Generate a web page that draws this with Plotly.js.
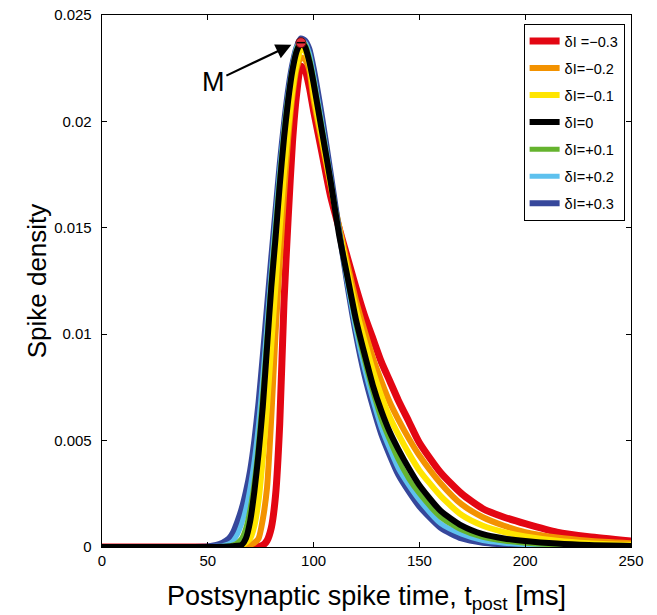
<!DOCTYPE html>
<html>
<head>
<meta charset="utf-8">
<script src="https://cdn.plot.ly/plotly-3.0.1.min.js"></script>
<style>html,body{margin:0;padding:0;background:#fff;}#chart{width:657px;height:615px;}</style>
</head>
<body>
<div id="chart"></div>
<script>
// time axis (ms)
const tPost = [0, 40, 50, 54, 57, 60, 62, 64, 66, 68, 70, 72, 74, 76, 78, 80, 82, 84, 86, 88, 90, 92, 94, 96, 98, 100, 104, 108, 112, 116, 120, 124, 128, 132, 136, 140, 145, 150, 160, 170, 180, 190, 200, 215, 230, 250];

const densM03 = [0,0,0,0,0, 0,0,0,0,0, 0,0,0.00002,0.00008,0.0003, 0.0009,0.0024,0.0058,0.0115,0.0155, 0.0190,0.0213,0.0226,0.0224,0.0216, 0.0205,0.0185,0.0165,0.0150,0.0136, 0.0122,0.0109,0.0098,0.0087,0.0078, 0.0069,0.0059,0.0049,0.0035,0.0025, 0.0018,0.0014,0.0011,0.0007,0.00048, 0.00028];
const densM02 = [0,0,0,0,0, 0,0,0,0.00002,0.00005, 0.0001,0.0002,0.0004,0.0013,0.0028, 0.0061,0.0100,0.0134,0.0165,0.0192, 0.0212,0.0225,0.0230,0.0229,0.0224, 0.0210,0.0190,0.0170,0.0151,0.0133, 0.0116,0.0102,0.0089,0.0078,0.0068, 0.0060,0.0051,0.0043,0.0030,0.0020, 0.0014,0.0010,0.0007,0.00045,0.0003, 0.00018];
const densM01 = [0,0,0,0,0, 0.00001,0.00002,0.00004,0.00008,0.0002, 0.0004,0.0010,0.0022,0.0042,0.0066, 0.0095,0.0123,0.0150,0.0176,0.0197, 0.0215,0.0227,0.0234,0.0233,0.0227, 0.0213,0.0192,0.0171,0.0150,0.0130, 0.0112,0.0097,0.0083,0.0071,0.0061, 0.0053,0.0044,0.0036,0.0024,0.0015, 0.0010,0.0007,0.0005,0.0003,0.00018, 0.0001];
const dens0 = [0,0,0,0,0.00001, 0.00002,0.00004,0.00006,0.0001,0.0004, 0.0012,0.0026,0.0044,0.0066,0.0094, 0.0122,0.0145,0.0170,0.0192,0.0210, 0.0224,0.0233,0.0237,0.0235,0.0228, 0.0218,0.0195,0.0172,0.0147,0.0127, 0.0107,0.0091,0.0076,0.0064,0.0054, 0.0046,0.0037,0.0029,0.0017,0.0010, 0.0006,0.0004,0.00028,0.00016,0.00009, 0.00005];
const densP01 = [0,0,0,0.00001,0.00002, 0.00005,0.0001,0.0002,0.0004,0.0009, 0.0018,0.0031,0.0049,0.0072,0.0099, 0.0126,0.0150,0.0174,0.0195,0.0212, 0.0225,0.0234,0.0238,0.0236,0.0230, 0.0220,0.0197,0.0173,0.0148,0.0126, 0.0105,0.0088,0.0073,0.0060,0.0050, 0.0041,0.0032,0.0025,0.0014,0.0008, 0.00045,0.00028,0.00018,0.0001,0.00006, 0.00003];
const densP02 = [0,0,0.00001,0.00003,0.00006, 0.00015,0.0003,0.0006,0.0011,0.0018, 0.0028,0.0041,0.0058,0.0080,0.0105, 0.0130,0.0154,0.0177,0.0197,0.0213, 0.0226,0.0235,0.0238,0.0237,0.0232, 0.0222,0.0199,0.0174,0.0148,0.0124, 0.0102,0.0084,0.0069,0.0056,0.0046, 0.0037,0.0029,0.0022,0.0011,0.0006, 0.0003,0.00018,0.00011,0.00006,0.00003, 0.00002];
const densP03 = [0,0,0.00003,0.0001,0.0002, 0.0004,0.0007,0.0012,0.0018,0.0026, 0.0036,0.0050,0.0068,0.0090,0.0113, 0.0136,0.0158,0.0180,0.0199,0.0215, 0.0227,0.0235,0.0239,0.0238,0.0234, 0.0225,0.0202,0.0176,0.0149,0.0123, 0.0100,0.0081,0.0066,0.0053,0.0043, 0.0034,0.0026,0.0019,0.0009,0.0004, 0.0002,0.00012,0.00008,0.00004,0.00002, 0.00001];

const seriesNames = ['δI =−0.3','δI=−0.2','δI=−0.1','δI=0','δI=+0.1','δI=+0.2','δI=+0.3'];
const yTickVals = [0, 0.005, 0.01, 0.015, 0.02, 0.025];
const yTickText = ['0', '0.005', '0.01', '0.015', '0.02', '0.025'];
const xTickVals = [0, 50, 100, 150, 200, 250];

const colors = ['#e30613', '#f39200', '#ffe500', '#000000', '#65b32e', '#5ec1ee', '#36479b'];
const widths = [7, 6, 6, 6, 5, 5, 6];
const allDens = [densM03, densM02, densM01, dens0, densP01, densP02, densP03];
// drawing order: red, orange, yellow, blue, cyan, green, black (on top)
const drawOrder = [0, 1, 2, 6, 5, 4, 3];

const traces = drawOrder.map(i => ({
  type: 'scatter', mode: 'lines',
  x: tPost, y: allDens[i],
  name: seriesNames[i],
  legendrank: i + 1,
  legendgroup: 'g' + i,
  line: {color: colors[i], width: widths[i], shape: 'spline', smoothing: 0.6},
  hoverinfo: 'skip'
}));

// mark M at maximum of the δI=0 curve
let iMax = 0;
dens0.forEach((v, i) => { if (v > dens0[iMax]) iMax = i; });
traces.push({
  type: 'scatter', mode: 'markers', x: [tPost[iMax]], y: [dens0[iMax]],
  showlegend: false, cliponaxis: false,
  marker: {symbol: 'circle', size: 10, color: '#e5323b', line: {color: '#6b0a0f', width: 1}}
});
traces.push({
  type: 'scatter', mode: 'markers', x: [tPost[iMax]], y: [dens0[iMax]],
  showlegend: false, cliponaxis: false,
  marker: {symbol: 'line-ew', size: 6, color: '#000', line: {color: '#000', width: 1.5}}
});

const font = 'Arial, "Liberation Sans", sans-serif';
const layout = {
  width: 657, height: 615,
  margin: {l: 102, r: 26, t: 15, b: 68},
  paper_bgcolor: '#fff', plot_bgcolor: '#fff',
  font: {family: font, color: '#000', size: 14},
  showlegend: true,
  legend: {
    x: 0.797, y: 0.983, xanchor: 'left', yanchor: 'top',
    bgcolor: '#fff', bordercolor: '#000', borderwidth: 1,
    font: {family: font, size: 14.5, color: '#000'},
    traceorder: 'grouped', tracegroupgap: 5.2
  },
  xaxis: {
    range: [0, 250], tickvals: xTickVals, ticks: 'inside', ticklen: 5, tickcolor: '#000',
    showline: true, linecolor: '#000', linewidth: 1.3, mirror: 'ticks',
    showgrid: false, zeroline: false,
    tickfont: {family: font, size: 15},
    title: {text: 'Postsynaptic spike time, t<sub>post</sub> [ms]', font: {family: font, size: 27}, standoff: 17}
  },
  yaxis: {
    range: [0, 0.025], tickvals: yTickVals, ticktext: yTickText, ticks: 'inside', ticklen: 5, tickcolor: '#000',
    showline: true, linecolor: '#000', linewidth: 1.3, mirror: 'ticks',
    showgrid: false, zeroline: false,
    tickfont: {family: font, size: 15}, ticklabelstandoff: 6,
    title: {text: 'Spike density', font: {family: font, size: 26}, standoff: 0}
  },
  annotations: [{
    x: tPost[iMax] - 4.5, y: dens0[iMax] - 0.0001, xref: 'x', yref: 'y',
    text: 'M', showarrow: true, ax: -78, ay: 37,
    arrowhead: 2, arrowsize: 1.4, arrowwidth: 2.2, arrowcolor: '#000', standoff: 0,
    font: {family: font, size: 27, color: '#000'}
  }]
};

Plotly.newPlot('chart', traces, layout, {displayModeBar: false, staticPlot: true});
</script>
</body>
</html>
